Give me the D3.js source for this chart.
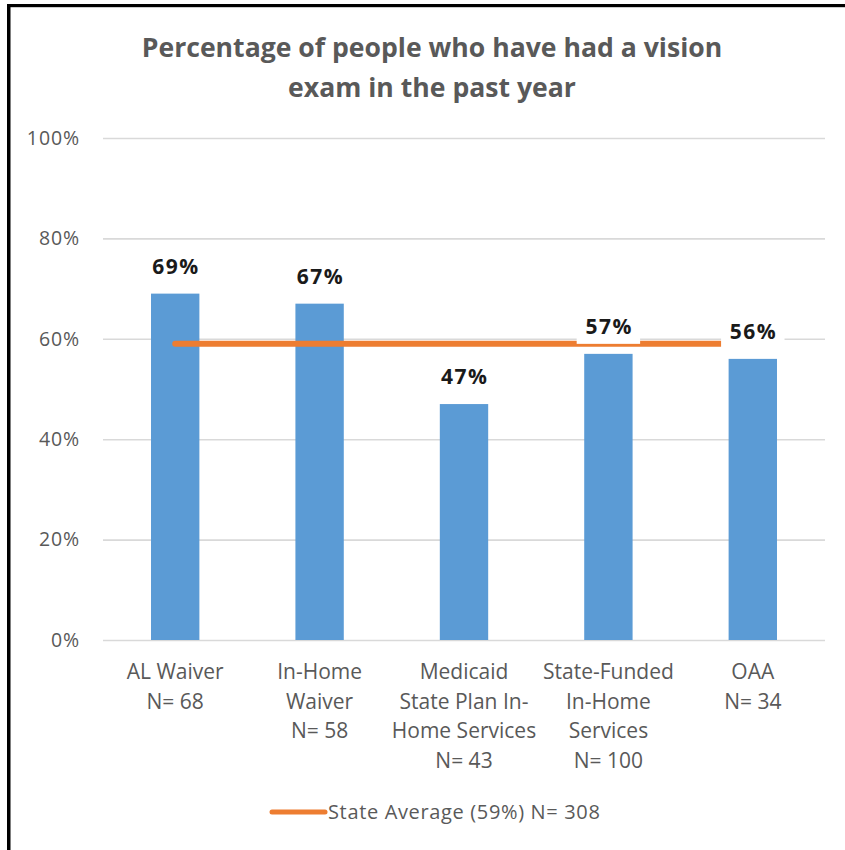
<!DOCTYPE html>
<html>
<head>
<meta charset="utf-8">
<script src="https://cdn.jsdelivr.net/npm/d3@7"></script>
<style>
  html, body { margin: 0; padding: 0; background: #fff; }
  svg { display: block; }
</style>
</head>
<body>
<svg id="chart" width="845" height="850"></svg>
<script>
// Program groups with sample sizes
const categories = ["AL Waiver", "In-Home Waiver", "Medicaid State Plan In-Home Services", "State-Funded In-Home Services", "OAA"];
const categoryLines = [
  ["AL Waiver", "N= 68"],
  ["In-Home", "Waiver", "N= 58"],
  ["Medicaid", "State Plan In-", "Home Services", "N= 43"],
  ["State-Funded", "In-Home", "Services", "N= 100"],
  ["OAA", "N= 34"]
];
// Share of people with a vision exam in the past year (%)
const values = [69, 67, 47, 57, 56];
// Statewide average (%)
const stateAverage = [59, 59, 59, 59, 59];
const yTicks = [0, 20, 40, 60, 80, 100];
const titleLines = ["Percentage of people who have had a vision", "exam in the past year"];
const legendLabel = "State Average (59%) N= 308";

const svg = d3.select("#chart");
const W = 845, H = 850;
const plot = { left: 103, right: 825, top: 138, bottom: 640 };

const x = d3.scaleBand().domain(categories).range([plot.left, plot.right]).paddingInner(0.665).paddingOuter(0.3325);
const y = d3.scaleLinear().domain([0, 100]).range([plot.bottom, plot.top]);

const grey = "#595959";
const blue = "#5B9BD5";
const orange = "#ED7D31";
const font = "'Open Sans', 'Noto Sans', sans-serif";

svg.append("rect").attr("width", W).attr("height", H).attr("fill", "#fff");

// Frame edges
svg.append("rect").attr("x", 7).attr("y", 4).attr("width", W - 7).attr("height", 3.2).attr("fill", "#000");
svg.append("rect").attr("x", 7).attr("y", 4).attr("width", 3.5).attr("height", H - 4).attr("fill", "#000");

// Title
svg.append("text")
  .attr("text-anchor", "middle")
  .attr("font-family", font).attr("font-weight", 700).attr("font-size", 26.6)
  .attr("fill", grey)
  .selectAll("tspan").data(titleLines).join("tspan")
  .attr("x", 432).attr("y", (d, i) => 57 + i * 39.5)
  .text(d => d);

// Gridlines and y tick labels
const yAxis = d3.axisLeft(y).tickValues(yTicks).tickFormat(d => d + "%").tickSize(-(plot.right - plot.left)).tickPadding(23);
const yg = svg.append("g").attr("transform", `translate(${plot.left},0)`).call(yAxis);
yg.select(".domain").remove();
yg.selectAll(".tick line").attr("stroke", "#D9D9D9").attr("stroke-width", 1.6);
yg.selectAll(".tick text")
  .attr("fill", grey).attr("font-family", font).attr("font-size", 19.5)
  .attr("letter-spacing", 0.9);

// Bars
svg.append("g").selectAll("rect").data(values).join("rect")
  .attr("x", (d, i) => x(categories[i]))
  .attr("y", d => y(d))
  .attr("width", x.bandwidth())
  .attr("height", d => y(0) - y(d))
  .attr("fill", blue);

// State average line
const cx = (i) => x(categories[i]) + x.bandwidth() / 2;
const line = d3.line().x((d, i) => cx(i)).y(d => y(d));
svg.append("path").datum(stateAverage)
  .attr("d", line)
  .attr("fill", "none").attr("stroke", orange).attr("stroke-width", 6).attr("stroke-linecap", "round");

// Value labels on white boxes
const labels = svg.append("g").selectAll("g").data(values).join("g");
labels.append("text")
  .attr("x", (d, i) => cx(i) + 0.75)
  .attr("y", d => y(d) - 20)
  .attr("text-anchor", "middle")
  .attr("font-family", font).attr("font-weight", 700).attr("font-size", 21)
  .attr("letter-spacing", 1.5)
  .attr("fill", "#1a1a1a")
  .text(d => d + "%");
labels.each(function (d, i) {
  const g = d3.select(this);
  const bb = g.select("text").node().getBBox();
  const c = cx(i);
  const half = bb.width / 2 + 8;
  g.insert("rect", "text")
    .attr("x", c - half).attr("y", bb.y - 2)
    .attr("width", half * 2).attr("height", bb.height + 6)
    .attr("fill", "#fff");
});

// Category labels
const xl = svg.append("g").selectAll("text").data(categoryLines).join("text")
  .attr("text-anchor", "middle")
  .attr("font-family", font).attr("font-size", 21)
  .attr("fill", grey);
xl.selectAll("tspan").data((d, i) => d.map(t => ({ t, i }))).join("tspan")
  .attr("x", d => cx(d.i))
  .attr("y", (d, j) => 679 + j * 29.5)
  .text(d => d.t);

// Legend
const ly = 812;
svg.append("line").attr("x1", 272).attr("x2", 325).attr("y1", ly).attr("y2", ly)
  .attr("stroke", orange).attr("stroke-width", 5).attr("stroke-linecap", "round");
svg.append("text").attr("x", 328).attr("y", ly).attr("dy", "0.35em")
  .attr("font-family", font).attr("font-size", 20).attr("letter-spacing", 0.65).attr("fill", grey)
  .text(legendLabel);
</script>
</body>
</html>
